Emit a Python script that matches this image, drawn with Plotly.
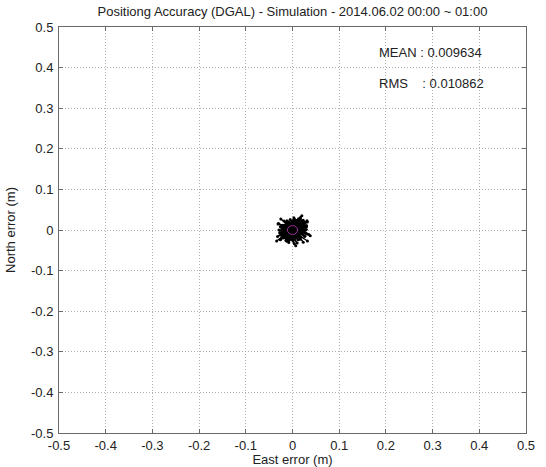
import plotly.graph_objects as go

# ---- data ----
east_err = [0.005, -0.016, 0.020, -0.008, 0.026, -0.023, 0.012, -0.003, 0.017, -0.020,
            0.029, -0.012, 0.008, -0.026, 0.022, -0.005, 0.014, -0.017, 0.032, -0.009,
            0.003, -0.021, 0.025, -0.013, 0.010, -0.029, 0.018, -0.001, 0.023, -0.014,
            0.007, -0.025, 0.027, -0.007, 0.016, -0.018, 0.035, -0.010, 0.004, -0.022,
            0.021, -0.004, 0.013, -0.027, 0.030, -0.008, 0.009, -0.016, 0.026, -0.032,
            0.017, 0.000, 0.022, -0.020, 0.012, -0.012, 0.031, -0.003, 0.008, -0.023,
            0.020, -0.014, 0.014, -0.026, 0.025, -0.005, 0.005, -0.018, 0.029, -0.009,
            0.010, -0.030, 0.018, 0.001, 0.038, -0.013, 0.007, -0.021, 0.023, -0.004,
            0.016, -0.025, 0.027, -0.010, 0.003, -0.017, 0.021, -0.034, 0.013, -0.007,
            0.032, -0.016, 0.009, -0.022, 0.017, -0.001, 0.025, -0.027, 0.012, -0.008,
            0.020, -0.020, 0.030, -0.012, 0.004, -0.014, 0.022, -0.031, 0.014, 0.000]
north_err = [0.014, -0.008, 0.003, 0.020, -0.016, 0.011, -0.024, 0.005, 0.016, -0.012,
             0.001, 0.023, -0.020, 0.008, -0.004, 0.026, -0.015, 0.012, -0.027, 0.004,
             0.019, -0.009, 0.015, -0.022, 0.024, 0.000, -0.018, 0.009, -0.030, 0.018,
             -0.005, 0.027, -0.014, 0.007, -0.023, 0.022, -0.011, 0.014, -0.034, 0.003,
             0.016, -0.019, 0.028, -0.007, 0.011, -0.026, 0.020, -0.001, 0.008, -0.016,
             0.031, -0.012, 0.005, -0.020, 0.015, -0.028, 0.023, -0.004, 0.012, -0.015,
             0.035, -0.008, 0.004, -0.024, 0.019, -0.011, 0.026, -0.018, 0.001, 0.009,
             -0.032, 0.016, -0.003, 0.022, -0.014, 0.007, -0.039, 0.012, 0.024, -0.009,
             0.005, -0.022, 0.018, -0.005, 0.030, -0.016, 0.009, -0.027, 0.014, 0.000,
             0.020, -0.019, 0.004, -0.012, 0.027, -0.023, 0.011, -0.007, 0.016, -0.031,
             0.023, -0.001, 0.008, -0.015, 0.019, -0.026, 0.003, 0.015, -0.011, 0.007]

mean_err = 0.009634
rms_err = 0.010862

tick_vals = [-0.5, -0.4, -0.3, -0.2, -0.1, 0, 0.1, 0.2, 0.3, 0.4, 0.5]
tick_text = ["-0.5", "-0.4", "-0.3", "-0.2", "-0.1", "0", "0.1", "0.2", "0.3", "0.4", "0.5"]

title_text = "Positiong Accuracy (DGAL) - Simulation - 2014.06.02 00:00 ~ 01:00"
x_title = "East error (m)"
y_title = "North error (m)"

FONT = "Liberation Sans, Arial, sans-serif"

fig = go.Figure()
fig.add_trace(go.Scatter(
    x=east_err, y=north_err, mode="lines+markers",
    line=dict(color="black", width=1.2),
    marker=dict(color="black", size=3),
    hoverinfo="skip", showlegend=False,
))

fig.add_shape(type="circle", xref="x", yref="y",
              x0=-rms_err, x1=rms_err, y0=-rms_err, y1=rms_err,
              line=dict(color="#9b2f9b", width=1), layer="above")

axis_common = dict(
    range=[-0.5, 0.5], tickvals=tick_vals, ticktext=tick_text,
    showgrid=True, gridcolor="#b0b0b0", griddash="1px,2px", gridwidth=1,
    zeroline=False, showline=True, linecolor="#6a6a6a", linewidth=1,
    mirror="ticks", ticks="inside", ticklen=4, tickcolor="#6a6a6a",
    tickfont=dict(family=FONT, size=13, color="#222"),
    title_font=dict(family=FONT, size=13, color="#222"),
    fixedrange=True,
)

fig.update_xaxes(**axis_common, title_text=x_title, title_standoff=2)
fig.update_yaxes(**axis_common, title_text=y_title, title_standoff=12, ticklabelstandoff=2)

fig.add_annotation(x=0.182, y=0.438, xref="x", yref="y", xanchor="left", yanchor="middle",
                   text=f"MEAN : {mean_err:.6f}", showarrow=False,
                   font=dict(family=FONT, size=13, color="#222"))
fig.add_annotation(x=0.182, y=0.36, xref="x", yref="y", xanchor="left", yanchor="middle",
                   text=f"RMS\u00a0\u00a0\u00a0 : {rms_err:.6f}", showarrow=False,
                   font=dict(family=FONT, size=13, color="#222"))

fig.update_layout(
    width=546, height=467,
    margin=dict(l=59, r=20, t=27, b=34, autoexpand=False),
    paper_bgcolor="white", plot_bgcolor="white",
    title=dict(text=title_text, x=0.5, xref="paper", xanchor="center",
               y=1 - 11 / 467, yref="container", yanchor="middle",
               font=dict(family=FONT, size=13, color="#222")),
    showlegend=False,
)

fig.write_html("out.html", config={"displayModeBar": False, "staticPlot": True},
               post_script="document.body.style.margin='0';document.body.style.overflow='hidden';")
